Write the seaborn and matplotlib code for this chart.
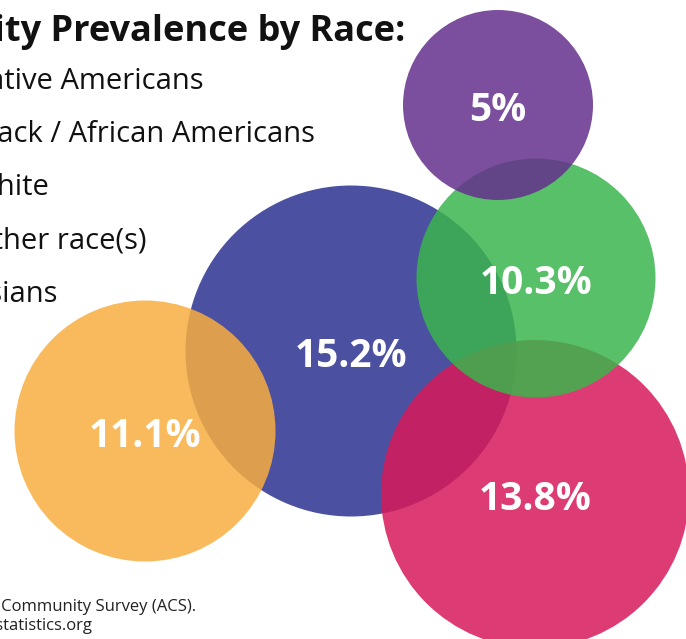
import matplotlib
matplotlib.use("Agg")
import matplotlib.pyplot as plt
import seaborn as sns
import pandas as pd

# data
races = ["Native Americans", "Black / African Americans", "White", "Other race(s)", "Asians"]
prevalence = [15.2, 13.8, 11.1, 10.3, 5.0]
colors = ["#2B338F", "#D8195A", "#F8AE40", "#3BB54D", "#64308D"]

# bubble layout (pixel space, y down) - the chart has no real axes
bubble_x = [351, 535, 145, 536, 498]
bubble_y = [351, 494, 431, 278, 105]
bubble_r = [165.5, 154, 130.5, 119.5, 95]

title = "Disability Prevalence by Race:"
footer = ["Source: 2016 American Community Survey (ACS).",
          "www.disabilitystatistics.org"]

df = pd.DataFrame({"race": races, "pct": prevalence,
                   "x": bubble_x, "y": bubble_y, "r": bubble_r})
# draw order: bottom to top
order = ["Native Americans", "Black / African Americans", "Other race(s)", "Asians", "White"]
df = df.set_index("race").loc[order].reset_index()

sns.set_theme(style="white")
plt.rcParams["font.family"] = ["Open Sans", "DejaVu Sans"]

fig = plt.figure(figsize=(6.86, 6.39), dpi=100)
ax = fig.add_axes([0, 0, 1, 1])

palette = dict(zip(races, colors))
# marker area in pt^2 from radius in px
sizes = {r: (2 * rad * 0.72) ** 2 for r, rad in zip(races, bubble_r)}

sns.scatterplot(data=df, x="x", y="y", hue="race", size="race",
                palette=palette, sizes=sizes, alpha=0.85, linewidth=0,
                legend=False, ax=ax)

for _, row in df.iterrows():
    lab = f"{row.pct:g}%"
    ax.text(row.x, row.y + 16, lab, ha="center", va="baseline",
            color="white", fontsize=28, fontweight="bold")

ax.set_xlim(0, 686)
ax.set_ylim(639, 0)
ax.axis("off")

# title and legend text (cropped at the left edge in the original)
ax.text(405, 41, title, ha="right", va="baseline", fontsize=26,
        fontweight="bold", color="#111111")
legend_end = [203, 315, 49, 146, 57]
for i, (name, xe) in enumerate(zip(races, legend_end)):
    ax.text(xe, 89 + i * 53.2, name, ha="right", va="baseline",
            fontsize=21, color="#111111")

ax.text(196, 611, footer[0], ha="right", va="baseline", fontsize=12, color="#222222")
ax.text(93, 630, footer[1], ha="right", va="baseline", fontsize=12, color="#222222")

fig.savefig("out.png", dpi=100)
